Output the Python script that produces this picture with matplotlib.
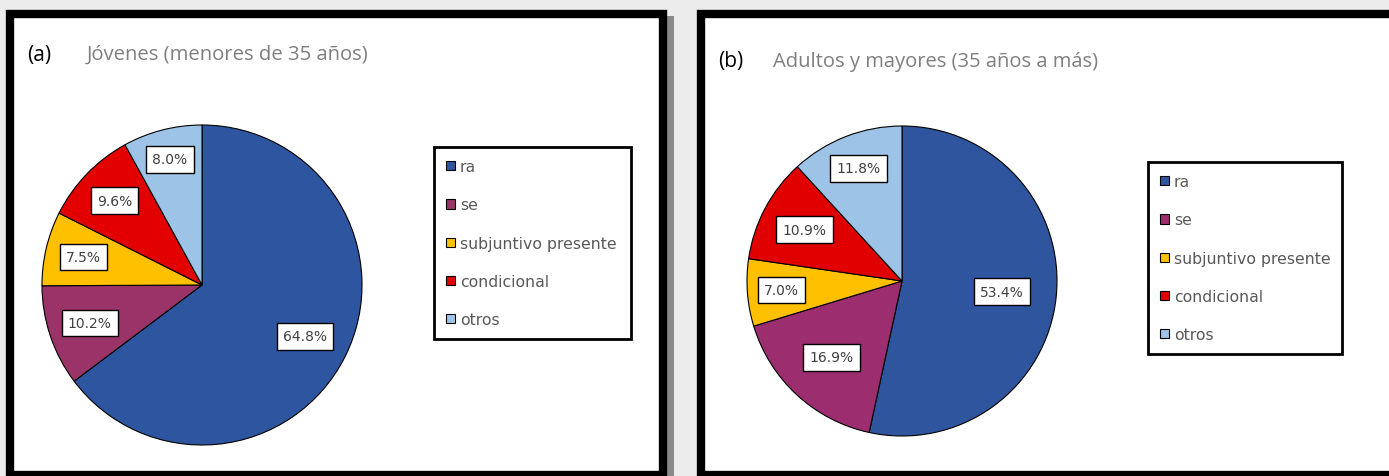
import numpy as np
import matplotlib.pyplot as plt
from matplotlib.patches import Rectangle

categorias = ['ra', 'se', 'subjuntivo presente', 'condicional', 'otros']
jovenes = [64.8, 10.2, 7.5, 9.6, 8.0]
adultos = [53.4, 16.9, 7.0, 10.9, 11.8]

colores_a = ['#2E56A0', '#9A3468', '#FFC000', '#E30000', '#9DC3E6']
colores_b = ['#2E559E', '#9C2D6E', '#FFC000', '#E10000', '#9DC3E6']

W, H = 1389, 477
fig = plt.figure(figsize=(W / 100, H / 100), dpi=100)
fig.patch.set_facecolor('#ececec')

# fondo en píxeles para los marcos
bg = fig.add_axes([0, 0, 1, 1])
bg.set_xlim(0, W)
bg.set_ylim(H, 0)
bg.axis('off')
bg.add_patch(Rectangle((667, 17), 7, 470, color='#8a8a8a', lw=0))
bg.add_patch(Rectangle((10, 15), 653, 461, facecolor='white', edgecolor='black', lw=6))
bg.add_patch(Rectangle((701, 15), 700, 461, facecolor='white', edgecolor='black', lw=6))

bg.text(27, 55, '(a)', fontsize=15, family='Open Sans', color='black', va='center')
bg.text(87, 55, 'Jóvenes (menores de 35 años)', fontsize=14.6, family='Open Sans',
        color='#7f7f7f', va='center')
bg.text(718, 62, '(b)', fontsize=15, family='Open Sans', color='black', va='center')
bg.text(773, 62, 'Adultos y mayores (35 años a más)', fontsize=14.5, family='Open Sans',
        color='#7f7f7f', va='center')


def pastel(cx, cy, r, valores, colores, dist, leg_box):
    ax = fig.add_axes([(cx - r) / W, (H - cy - r) / H, 2 * r / W, 2 * r / H])
    wedges, _ = ax.pie(valores, colors=colores, startangle=90, counterclock=False,
                       wedgeprops=dict(edgecolor='black', linewidth=0.8))
    ax.set_xlim(-1, 1)
    ax.set_ylim(-1, 1)
    ax.set_aspect('equal')
    for w, v, d in zip(wedges, valores, dist):
        ang = np.deg2rad((w.theta1 + w.theta2) / 2)
        ax.text(d * np.cos(ang), d * np.sin(ang), f'{v:.1f}%', fontsize=10,
                color='#404040', ha='center', va='center',
                bbox=dict(boxstyle='square,pad=0.45', fc='white', ec='black', lw=1))
    x0, y0, x1, y1 = leg_box
    leg = fig.legend(wedges, categorias, loc='upper left',
                     bbox_to_anchor=(x0 / W, 1 - y1 / H, (x1 - x0) / W, (y1 - y0) / H),
                     mode='expand', fontsize=11.3, labelcolor='#595959',
                     handlelength=0.53, handleheight=0.53, handletextpad=0.35,
                     labelspacing=1.48, borderpad=0.78, borderaxespad=0,
                     fancybox=False, framealpha=1, edgecolor='black')
    leg.get_frame().set_linewidth(2)
    return ax


pastel(202, 286, 160, jovenes, colores_a,
       [0.72, 0.74, 0.76, 0.76, 0.81], (434, 148, 631, 338))
pastel(902, 282, 155, adultos, colores_b,
       [0.65, 0.67, 0.78, 0.71, 0.78], (1148, 163, 1342, 348))

fig.savefig('out.png', dpi=100, facecolor=fig.get_facecolor())
